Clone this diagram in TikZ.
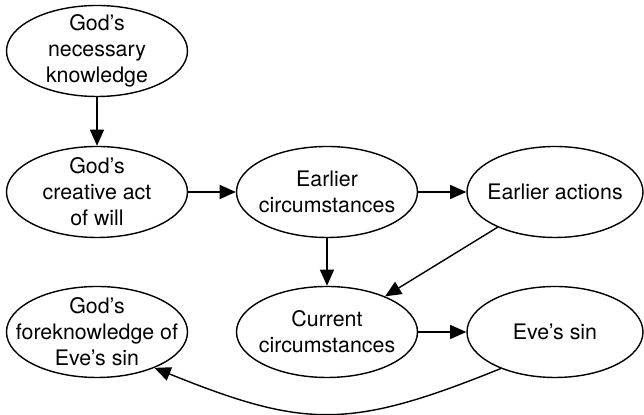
\documentclass[tikz,border=0pt]{standalone}
\usepackage{fontspec}
\setmainfont{TeX Gyre Heros}
\usetikzlibrary{shapes.geometric, arrows.meta}

\begin{document}
\begin{tikzpicture}[
        ell/.style={draw, ellipse, line width=1pt, align=center, inner xsep=-1cm, inner ysep=-0.5cm,
            minimum width=4.525cm, minimum height=2.275cm, font=\fontsize{15.2}{18.5}\selectfont},
        arrow/.style={-{Triangle[length=11.5pt, width=10pt]}, line width=1pt}
    ]
        \useasboundingbox (0,0) rectangle (16.1,10.375);

        % Left column
        \node[ell] (necknow) at (2.425,9.1) {God’s\\ necessary\\ knowledge};
        \node[ell] (creact) at (2.425,5.575) {God’s\\ creative act\\ of will};
        \node[ell] (foreknow) at (2.425,2.075) {God’s\\ foreknowledge of\\ Eve’s sin};

        % Middle column
        \node[ell] (earlcirc) at (8.175,5.575) {Earlier\\ circumstances};
        \node[ell] (currcirc) at (8.175,2.075) {Current\\ circumstances};

        % Right column
        \node[ell, minimum width=4.4cm] (earlact) at (13.875,5.575) {Earlier actions};
        \node[ell, minimum width=4.4cm] (evesin) at (13.875,2.075) {Eve’s sin};

        % Arrows
        \draw[arrow] (necknow) -- (creact);
        \draw[arrow] (creact) -- (earlcirc);
        \draw[arrow] (earlcirc) -- (earlact);
        \draw[arrow] (earlcirc) -- (currcirc);
        \draw[arrow] (earlact) -- (currcirc);
        \draw[arrow] (currcirc) -- (evesin);
        \draw[arrow] (evesin.214) to[out=202, in=-22, looseness=1.2] (foreknow.328);
    \end{tikzpicture}
\end{document}
